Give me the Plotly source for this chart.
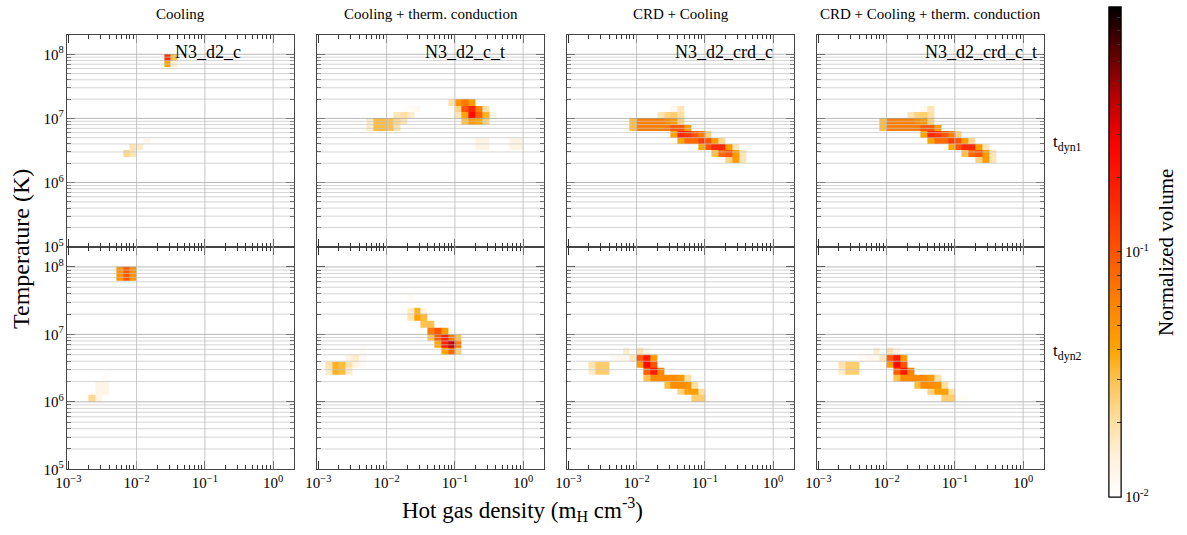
import numpy as np
import plotly.graph_objects as go

W, H = 1187, 535

col_titles = ["Cooling", "Cooling + therm. conduction", "CRD + Cooling",
              "CRD + Cooling + therm. conduction"]
run_names = ["N3_d2_c", "N3_d2_c_t", "N3_d2_crd_c", "N3_d2_crd_c_t"]
row_labels = ["t<sub>dyn1</sub>", "t<sub>dyn2</sub>"]

# 2D histogram cells: (log10 density bin start, log10 temperature bin start, normalized volume)
cool_t1 = [
    (-1.6, 7.9, 0.15), (-1.6, 7.8, 0.04), (-1.5, 7.9, 0.03), (-1.5, 7.8, 0.014),
    (-2.2, 6.4, 0.022), (-2.1, 6.4, 0.018), (-2.1, 6.5, 0.018), (-2.0, 6.5, 0.016),
    (-1.9, 6.6, 0.012),
]
cond_t1 = [
    (-2.3, 6.9, 0.016), (-2.2, 6.9, 0.032), (-2.1, 6.9, 0.032), (-2.0, 6.9, 0.03),
    (-1.9, 6.9, 0.022), (-1.8, 6.9, 0.018),
    (-2.3, 6.8, 0.016), (-2.2, 6.8, 0.032), (-2.1, 6.8, 0.032), (-2.0, 6.8, 0.03),
    (-1.9, 6.8, 0.019),
    (-1.9, 7.0, 0.018), (-1.8, 7.0, 0.02), (-1.7, 7.0, 0.016),
    (-1.7, 7.1, 0.011), (-1.6, 7.1, 0.012),
    (-1.1, 7.2, 0.019), (-1.0, 7.2, 0.05), (-0.9, 7.2, 0.07), (-0.8, 7.2, 0.045),
    (-1.0, 7.1, 0.024), (-0.9, 7.1, 0.1), (-0.8, 7.1, 0.17), (-0.7, 7.1, 0.065),
    (-0.6, 7.1, 0.02),
    (-1.0, 7.0, 0.018), (-0.9, 7.0, 0.04), (-0.8, 7.0, 0.23), (-0.7, 7.0, 0.09),
    (-0.6, 7.0, 0.035), (-0.5, 7.0, 0.013),
    (-0.9, 6.9, 0.03), (-0.8, 6.9, 0.045), (-0.7, 6.9, 0.04), (-0.6, 6.9, 0.024),
    (-0.7, 6.6, 0.013), (-0.6, 6.6, 0.013), (-0.7, 6.5, 0.013), (-0.6, 6.5, 0.013),
    (-0.2, 6.6, 0.013), (-0.1, 6.6, 0.013), (-0.2, 6.5, 0.013), (-0.1, 6.5, 0.013),
]
crd_t1 = [
    (-1.5, 7.1, 0.012), (-1.4, 7.1, 0.018),
    (-1.7, 7.0, 0.018), (-1.6, 7.0, 0.024), (-1.5, 7.0, 0.026), (-1.4, 7.0, 0.02),
    (-2.1, 6.9, 0.032), (-2.0, 6.9, 0.065), (-1.9, 6.9, 0.065), (-1.8, 6.9, 0.065),
    (-1.7, 6.9, 0.065), (-1.6, 6.9, 0.055), (-1.5, 6.9, 0.045), (-1.4, 6.9, 0.024),
    (-2.1, 6.8, 0.032), (-2.0, 6.8, 0.065), (-1.9, 6.8, 0.065), (-1.8, 6.8, 0.065),
    (-1.7, 6.8, 0.065), (-1.6, 6.8, 0.065), (-1.5, 6.8, 0.1), (-1.4, 6.8, 0.1),
    (-1.3, 6.8, 0.045),
    (-1.5, 6.7, 0.04), (-1.4, 6.7, 0.17), (-1.3, 6.7, 0.14), (-1.2, 6.7, 0.1),
    (-1.1, 6.7, 0.065), (-1.0, 6.7, 0.024),
    (-1.4, 6.6, 0.04), (-1.3, 6.6, 0.08), (-1.2, 6.6, 0.08), (-1.1, 6.6, 0.13),
    (-1.0, 6.6, 0.1), (-0.9, 6.6, 0.045), (-0.8, 6.6, 0.022),
    (-1.1, 6.5, 0.04), (-1.0, 6.5, 0.1), (-0.9, 6.5, 0.16), (-0.8, 6.5, 0.16),
    (-0.7, 6.5, 0.045), (-0.6, 6.5, 0.018),
    (-0.9, 6.4, 0.03), (-0.8, 6.4, 0.08), (-0.7, 6.4, 0.1), (-0.6, 6.4, 0.045),
    (-0.5, 6.4, 0.018),
    (-0.7, 6.3, 0.024), (-0.6, 6.3, 0.045), (-0.5, 6.3, 0.018),
]
crd_cond_t1 = list(crd_t1)

cool_t2 = [
    (-2.3, 7.9, 0.05), (-2.2, 7.9, 0.1), (-2.1, 7.9, 0.05),
    (-2.3, 7.8, 0.05), (-2.2, 7.8, 0.1), (-2.1, 7.8, 0.05),
    (-2.7, 6.0, 0.022), (-2.6, 6.0, 0.013), (-2.6, 6.1, 0.013), (-2.5, 6.1, 0.013),
    (-2.6, 6.2, 0.013), (-2.5, 6.2, 0.013), (-2.5, 6.3, 0.011),
]
cond_t2 = [
    (-1.7, 7.5, 0.011),
    (-1.7, 7.3, 0.016), (-1.6, 7.3, 0.035), (-1.5, 7.3, 0.013),
    (-1.7, 7.2, 0.019), (-1.6, 7.2, 0.04), (-1.5, 7.2, 0.032),
    (-1.5, 7.1, 0.03), (-1.4, 7.1, 0.03),
    (-1.4, 7.0, 0.065), (-1.3, 7.0, 0.1), (-1.2, 7.0, 0.045), (-1.1, 7.0, 0.012),
    (-1.4, 6.9, 0.03), (-1.3, 6.9, 0.09), (-1.2, 6.9, 0.18), (-1.1, 6.9, 0.065),
    (-1.0, 6.9, 0.03),
    (-1.3, 6.8, 0.04), (-1.2, 6.8, 0.18), (-1.1, 6.8, 0.4), (-1.0, 6.8, 0.065),
    (-1.2, 6.7, 0.04), (-1.1, 6.7, 0.08), (-1.0, 6.7, 0.024),
    (-2.4, 6.7, 0.011),
    (-2.6, 6.6, 0.013), (-2.5, 6.6, 0.016), (-2.4, 6.6, 0.011),
    (-2.9, 6.5, 0.019), (-2.8, 6.5, 0.035), (-2.7, 6.5, 0.032), (-2.6, 6.5, 0.019),
    (-2.5, 6.5, 0.013), (-2.4, 6.5, 0.011),
    (-2.9, 6.4, 0.016), (-2.8, 6.4, 0.035), (-2.7, 6.4, 0.032), (-2.6, 6.4, 0.016),
]
crd_t2 = [
    (-2.2, 6.7, 0.016), (-2.0, 6.7, 0.019), (-1.9, 6.7, 0.013),
    (-2.4, 6.6, 0.011), (-2.3, 6.6, 0.012), (-2.2, 6.6, 0.012), (-2.1, 6.6, 0.017),
    (-2.0, 6.6, 0.1), (-1.9, 6.6, 0.2), (-1.8, 6.6, 0.045),
    (-2.7, 6.5, 0.019), (-2.6, 6.5, 0.026), (-2.5, 6.5, 0.026), (-2.0, 6.5, 0.045),
    (-1.9, 6.5, 0.25), (-1.8, 6.5, 0.1),
    (-2.7, 6.4, 0.016), (-2.6, 6.4, 0.026), (-2.5, 6.4, 0.026), (-1.9, 6.4, 0.09),
    (-1.8, 6.4, 0.2), (-1.7, 6.4, 0.06),
    (-1.9, 6.3, 0.03), (-1.8, 6.3, 0.055), (-1.7, 6.3, 0.055), (-1.6, 6.3, 0.055),
    (-1.5, 6.3, 0.055), (-1.4, 6.3, 0.045), (-1.3, 6.3, 0.02),
    (-1.6, 6.2, 0.032), (-1.5, 6.2, 0.055), (-1.4, 6.2, 0.055), (-1.3, 6.2, 0.05),
    (-1.2, 6.2, 0.02),
    (-1.4, 6.1, 0.024), (-1.3, 6.1, 0.042), (-1.2, 6.1, 0.042), (-1.1, 6.1, 0.02),
    (-1.2, 6.0, 0.026), (-1.1, 6.0, 0.026), (-1.0, 6.0, 0.011), (-0.9, 6.0, 0.011),
]
crd_cond_t2 = list(crd_t2)

panels = [[cool_t1, cond_t1, crd_t1, crd_cond_t1],
          [cool_t2, cond_t2, crd_t2, crd_cond_t2]]

# colorbar ticks (normalized volume)
cb_major = [0.01, 0.1, 1.0]
cb_major_text = ["10<sup>-2</sup>", "10<sup>-1</sup>", "10<sup>0</sup>"]
cb_minor = [m * 10.0 ** d for d in (-2, -1) for m in range(2, 10)]

# histogram grid (0.1 dex bins)
BIN = 0.1
N0, N1 = -3.0, 0.3
T0, T1 = 5.0, 8.3
nb_n = int(round((N1 - N0) / BIN))
nb_T = int(round((T1 - T0) / BIN))
logn_edges = N0 + BIN * np.arange(nb_n + 1)
logT_edges = T0 + BIN * np.arange(nb_T + 1)


def to_grid(cells):
    z = np.full((nb_T, nb_n), np.nan)
    for ln, lt, v in cells:
        j = int(round((ln - N0) / BIN))
        i = int(round((lt - T0) / BIN))
        z[i, j] = np.log10(v)
    return z


colorscale = [
    [0.00, "#ffffff"], [0.08, "#fff1dc"], [0.15, "#ffe0a6"], [0.24, "#ffc24e"],
    [0.30, "#ffa500"], [0.40, "#ff8000"], [0.50, "#ff5500"], [0.60, "#ff2a00"],
    [0.72, "#ff0000"], [0.82, "#b40000"], [0.91, "#5a0000"], [1.00, "#000000"],
]

FONT = "Liberation Serif"
fig = go.Figure()

# pixel geometry
col_x0 = [67.3, 317.3, 567.3, 817.3]
PW = 227.0
row_y = [(35.0, 246.7), (246.7, 469.3)]


def px_x(p):
    return p / W


def px_y(p):
    return 1 - p / H


layout_axes = {}
shapes = []
for r in range(2):
    for c in range(4):
        k = r * 4 + c + 1
        xs = "" if k == 1 else str(k)
        xid, yid = "x" + xs, "y" + xs
        fig.add_trace(go.Heatmap(
            x=10 ** logn_edges, y=10 ** logT_edges, z=to_grid(panels[r][c]),
            coloraxis="coloraxis2" if k == 8 else "coloraxis",
            xaxis=xid, yaxis=yid, hoverongaps=False,
        ))
        axcommon = dict(
            type="log", showline=True, linecolor="#444444", linewidth=1.2,
            mirror="ticks", ticks="inside", ticklen=8, tickwidth=1,
            tickcolor="#333333", showgrid=False, zeroline=False,
            exponentformat="power", dtick=1, automargin=False,
            tickfont=dict(family=FONT, size=12, color="black"),
            minor=dict(ticks="inside", ticklen=4, tickwidth=1,
                       tickcolor="#333333", dtick="D1", showgrid=False),
        )
        layout_axes["xaxis" + xs] = dict(
            axcommon, anchor=yid,
            domain=[px_x(col_x0[c]), px_x(col_x0[c] + PW)],
            range=[-3.015, 0.31],
            showticklabels=(r == 1),
            labelalias={"1": "10<sup>0</sup>"},
        )
        layout_axes["yaxis" + xs] = dict(
            axcommon, anchor=xid,
            domain=[px_y(row_y[r][1]), px_y(row_y[r][0])],
            range=[5, 8.3],
            showticklabels=(c == 0),
        )
        # grid lines drawn over the histogram
        for d in range(5, 9):
            for m in range(1, 10):
                val = m * 10.0 ** d
                lv = np.log10(val)
                if 5.001 < lv < 8.299:
                    shapes.append(dict(
                        type="line", xref=xid + " domain", yref=yid,
                        x0=0, x1=1, y0=val, y1=val, layer="above",
                        line=dict(color="rgba(160,160,160,0.75)" if m == 1 else "rgba(195,195,195,0.7)", width=1),
                    ))
        for d in (-2, -1, 0):
            shapes.append(dict(
                type="line", xref=xid, yref=yid + " domain",
                x0=10.0 ** d, x1=10.0 ** d, y0=0, y1=1, layer="above",
                line=dict(color="rgba(185,185,185,0.8)", width=1),
            ))

annotations = []
for c in range(4):
    annotations.append(dict(
        text=col_titles[c], xref="paper", yref="paper",
        x=px_x(col_x0[c] + PW / 2), y=px_y(14), xanchor="center", yanchor="middle",
        showarrow=False, font=dict(family=FONT, size=15, color="black"),
    ))
    annotations.append(dict(
        text=run_names[c], xref="paper", yref="paper",
        x=px_x(col_x0[c] + 106), y=px_y(40), xanchor="left", yanchor="top",
        showarrow=False, font=dict(family=FONT, size=18, color="black"),
    ))
for r, yy in enumerate((143, 352)):
    annotations.append(dict(
        text=row_labels[r], xref="paper", yref="paper",
        x=px_x(1051), y=px_y(yy), xanchor="left", yanchor="middle",
        showarrow=False, font=dict(family=FONT, size=17, color="black"),
    ))
annotations.append(dict(
    text="Temperature (K)", xref="paper", yref="paper", textangle=-90,
    x=px_x(21), y=px_y(249), xanchor="center", yanchor="middle",
    showarrow=False, font=dict(family=FONT, size=24, color="black"),
))
annotations.append(dict(
    text="Hot gas density (m<sub>H</sub> cm<sup>-3</sup>)", xref="paper", yref="paper",
    x=px_x(522), y=px_y(509), xanchor="center", yanchor="middle",
    showarrow=False, font=dict(family=FONT, size=23, color="black"),
))
annotations.append(dict(
    text="Normalized volume", xref="paper", yref="paper", textangle=-90,
    x=px_x(1166), y=px_y(253), xanchor="center", yanchor="middle",
    showarrow=False, font=dict(family=FONT, size=21, color="black"),
))

cb_geom = dict(
    x=px_x(1109.3), xanchor="left", xpad=0, thickness=12.4,
    lenmode="fraction", len=490 / H, y=px_y(251.7), yanchor="middle", ypad=0,
    outlinewidth=1, outlinecolor="black", tickmode="array",
)

fig.update_layout(
    width=W, height=H, autosize=False,
    margin=dict(l=0, r=0, t=0, b=0, pad=0, autoexpand=False),
    paper_bgcolor="white", plot_bgcolor="white",
    showlegend=False,
    font=dict(family=FONT, color="black"),
    coloraxis=dict(
        colorscale=colorscale, cmin=-2, cmax=0,
        colorbar=dict(
            cb_geom,
            tickvals=list(np.log10(cb_major)), ticktext=cb_major_text,
            ticks="inside", ticklen=12, tickcolor="#333333",
            tickfont=dict(family=FONT, size=15, color="black"),
        ),
    ),
    coloraxis2=dict(
        colorscale=colorscale, cmin=-2, cmax=0,
        colorbar=dict(
            cb_geom,
            tickvals=list(np.log10(cb_minor)) + list(np.log10(cb_major)),
            showticklabels=False,
            ticks="inside", ticklen=4, tickcolor="#333333",
        ),
    ),
    shapes=shapes,
    annotations=annotations,
    **layout_axes,
)

fig.write_html("out.html", config={"displayModeBar": False},
               post_script="document.body.style.margin='0';")
